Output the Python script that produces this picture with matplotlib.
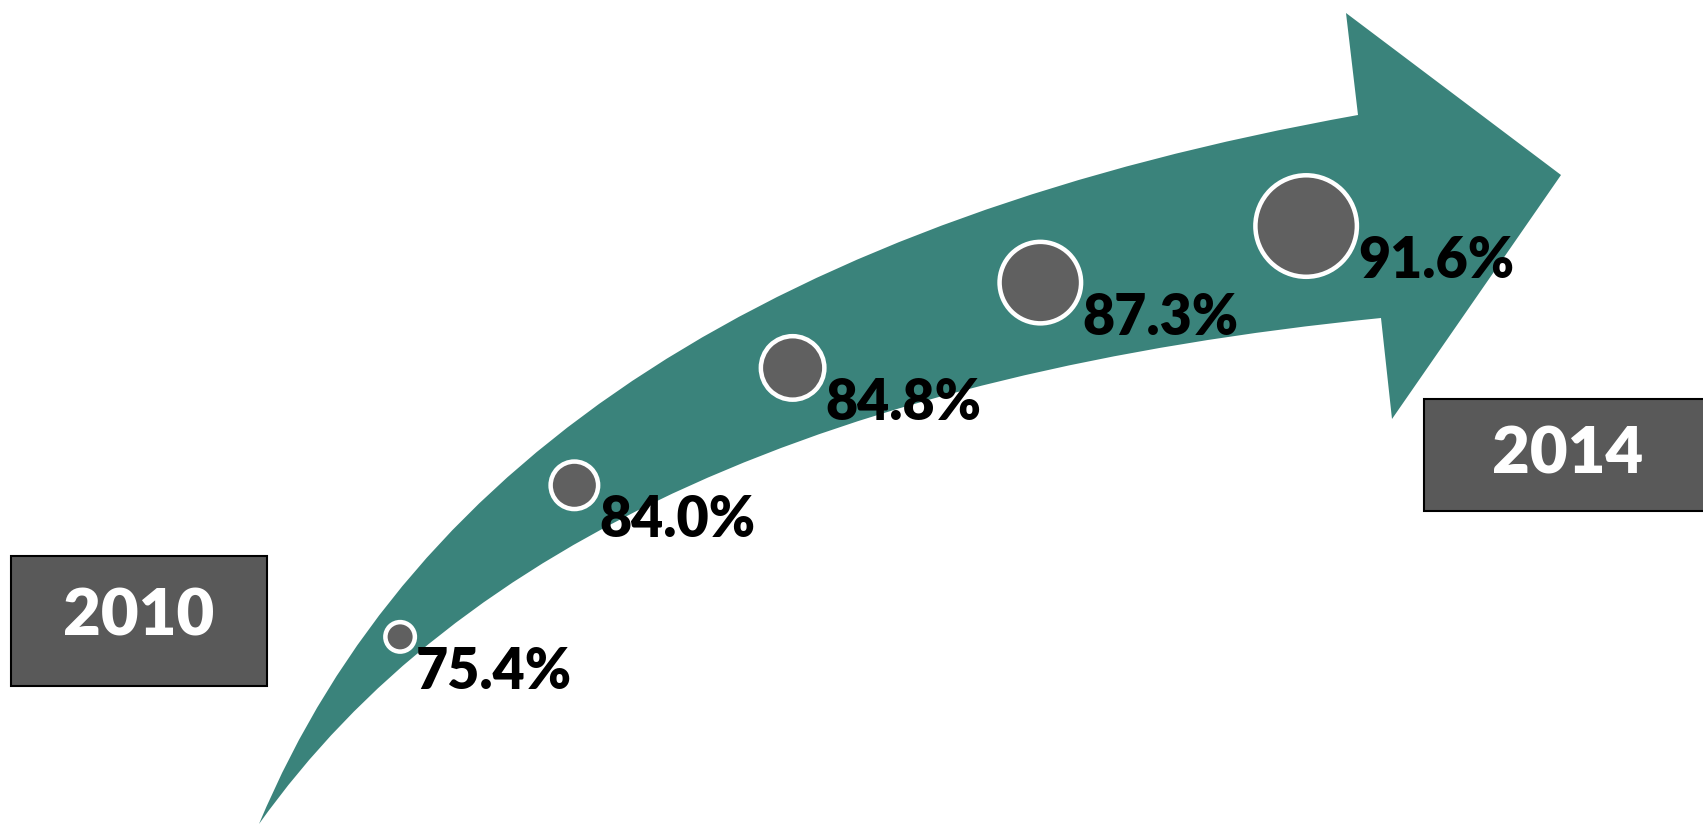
import numpy as np
import matplotlib
matplotlib.use('Agg')
import matplotlib.pyplot as plt
from matplotlib.path import Path
from matplotlib.patches import PathPatch, Circle, Rectangle

plt.rcParams['font.family'] = ['Lato', 'DejaVu Sans']

# data
years = [2010, 2011, 2012, 2013, 2014]
rates = [75.4, 84.0, 84.8, 87.3, 91.6]

# layout (pixel space of the 1703x825 canvas)
pos_t = [0.215, 0.41, 0.605, 0.79, 0.962]   # where each dot sits along the arrow
dot_r = [17, 26, 34, 43, 53]                 # outer radius of each dot
ring = 4.5

teal = '#3A837B'
dot_grey = '#606060'
box_grey = '#595959'

W, H = 1703, 825
fig = plt.figure(figsize=(W / 100, H / 100), dpi=100)
ax = fig.add_axes([0, 0, 1, 1])
ax.set_xlim(0, W)
ax.set_ylim(H, 0)
ax.axis('off')

# curved arrow: two quadratic edges + head
tail = (259, 824)
top_ctrl, top_end = (490, 270), (1358, 115)
bot_ctrl, bot_end = (560, 400), (1381, 318)
head_top, tip, head_bot = (1346, 13), (1561, 175), (1392, 419)

verts = [tail, top_ctrl, top_end, head_top, tip, head_bot, bot_end, bot_ctrl, tail, tail]
codes = [Path.MOVETO, Path.CURVE3, Path.CURVE3, Path.LINETO, Path.LINETO,
         Path.LINETO, Path.LINETO, Path.CURVE3, Path.CURVE3, Path.CLOSEPOLY]
ax.add_patch(PathPatch(Path(verts, codes), facecolor=teal, edgecolor='none'))

# centre line of the shaft, used to place the dots
p0 = np.array(tail, float)
p1 = (np.array(top_ctrl) + np.array(bot_ctrl)) / 2
p2 = (np.array(top_end) + np.array(bot_end)) / 2

def centre(t):
    return (1 - t) ** 2 * p0 + 2 * t * (1 - t) * p1 + t ** 2 * p2

for i, (t, r, v) in enumerate(zip(pos_t, dot_r, rates)):
    cx, cy = centre(t)
    if i == 0:
        cy += 6  # first dot sits a little below the centre line
    ax.add_patch(Circle((cx, cy), r - ring / 2, facecolor=dot_grey,
                        edgecolor='white', linewidth=ring * 0.72, zorder=3))
    ax.text(cx + r - 1, cy + 52, f'{v:.1f}%', fontsize=40, fontweight='heavy',
            color='black', ha='left', va='baseline', zorder=4)

# year boxes
ax.add_patch(Rectangle((11, 556), 256, 130, facecolor=box_grey,
                       edgecolor='black', linewidth=1.5, zorder=2))
ax.text(139, 635, str(years[0]), fontsize=47, fontweight='heavy', color='white',
        ha='center', va='baseline', zorder=3)

ax.add_patch(Rectangle((1424, 399), 300, 112, facecolor=box_grey,
                       edgecolor='black', linewidth=1.5, zorder=2))
ax.text(1568, 473, str(years[-1]), fontsize=47, fontweight='heavy', color='white',
        ha='center', va='baseline', zorder=3)

fig.savefig('out.png', dpi=100)
